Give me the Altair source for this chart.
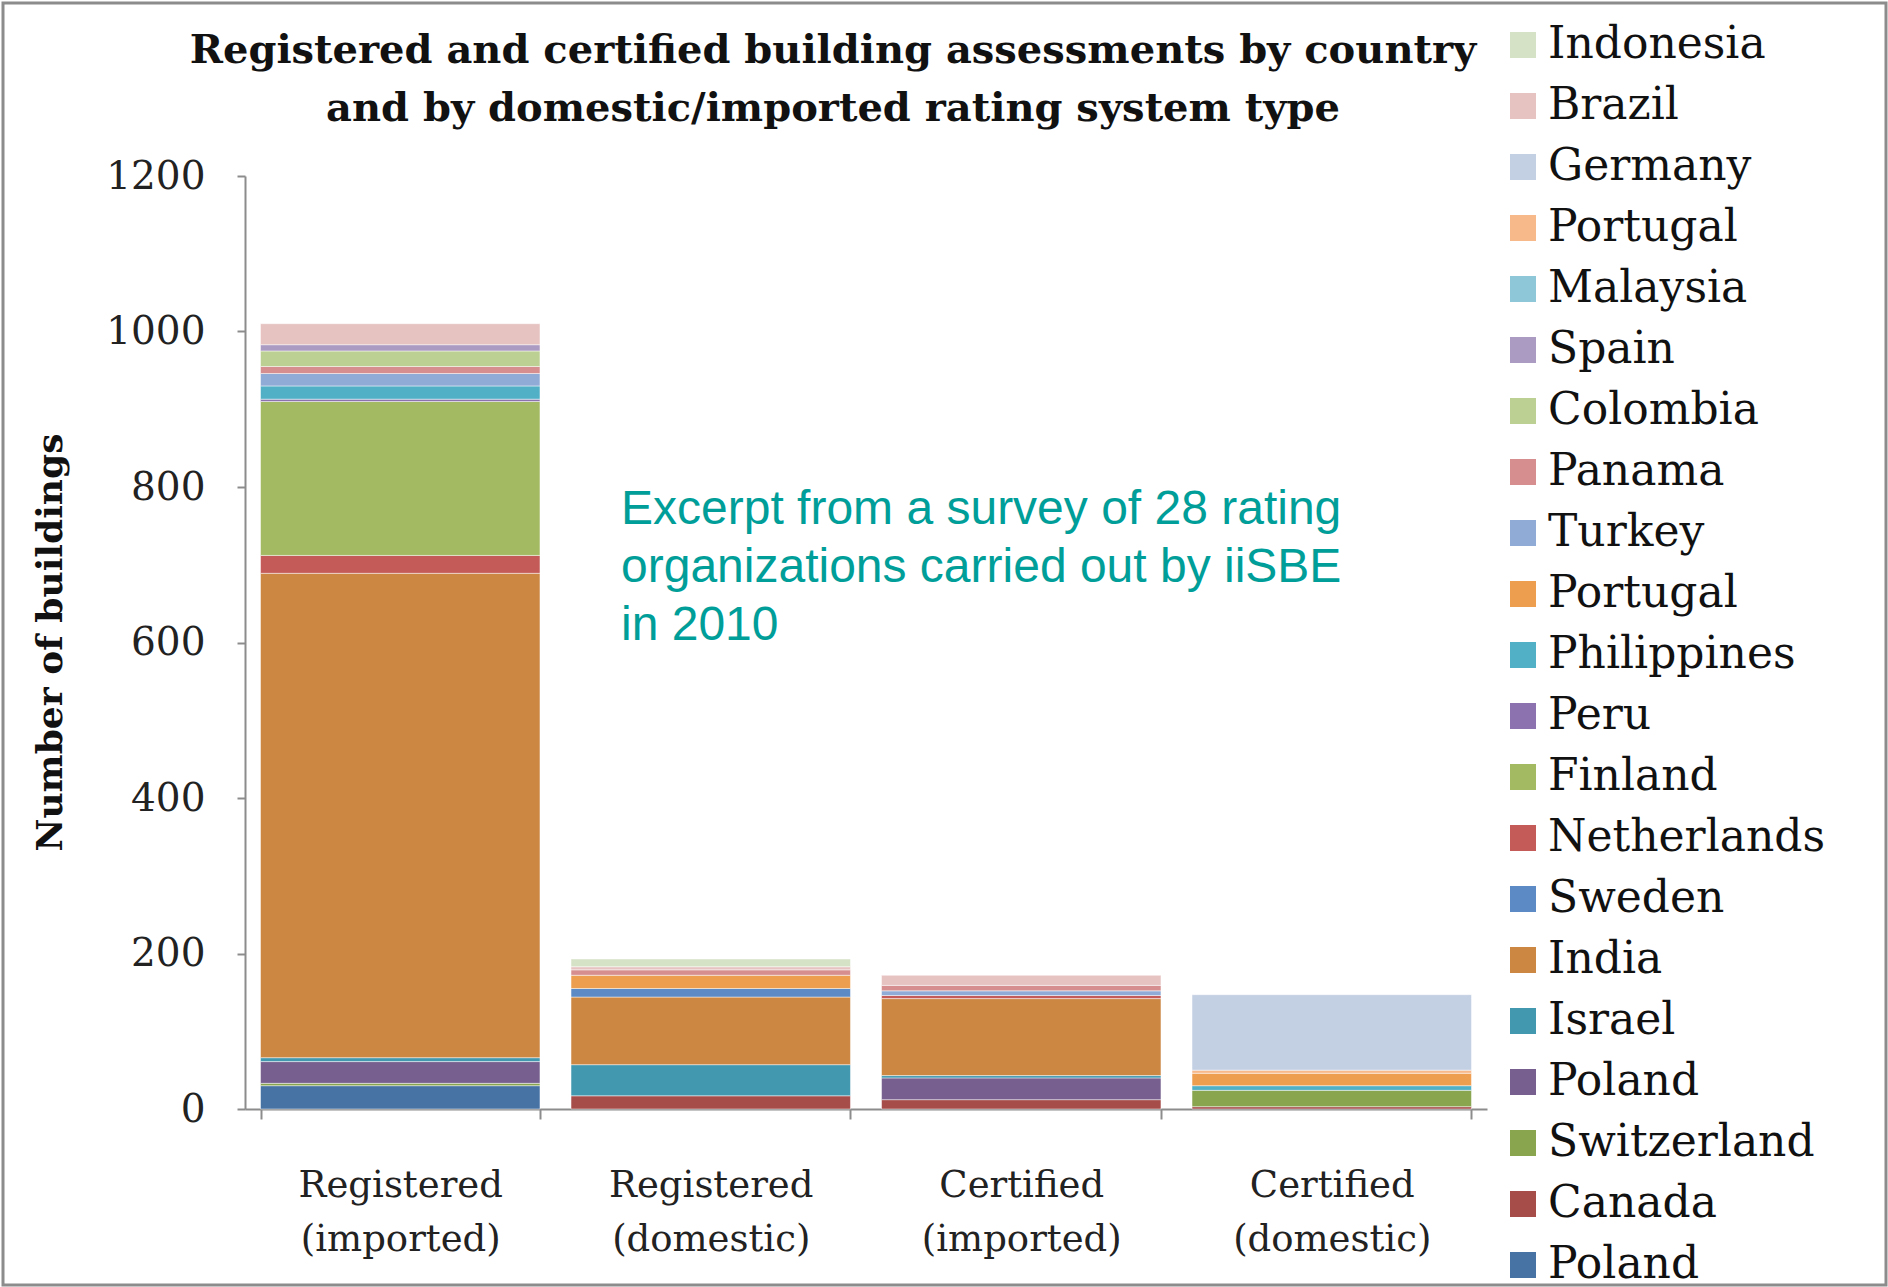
import altair as alt
import pandas as pd

categories = ["Registered (imported)", "Registered (domestic)",
              "Certified (imported)", "Certified (domestic)"]

# stacking order, bottom to top ("~2" marks a second entry with the same name)
series = ["Poland", "Canada", "Switzerland", "Poland~2", "Israel", "India",
          "Sweden", "Netherlands", "Finland", "Peru", "Philippines",
          "Portugal", "Turkey", "Panama", "Colombia", "Spain", "Malaysia",
          "Portugal~2", "Germany", "Brazil", "Indonesia"]

colors = ["#4672A4", "#A64D4A", "#89A54E", "#77608F", "#4198AF", "#CC8742",
          "#5B8AC5", "#C45B58", "#A3BA62", "#8C72AE", "#51AFC6",
          "#EE9E4F", "#90ABD6", "#D68F8E", "#BDD094", "#AB9BC2", "#8EC8D8",
          "#F7B88A", "#C3CFE3", "#E6C2C1", "#D6E2C6"]

reg_imported  = [30, 0, 3, 28, 5, 623, 0, 23, 198, 3, 17, 0, 16, 9, 20, 8, 0, 0, 0, 27, 0]
reg_domestic  = [0, 17, 0, 0, 40, 87, 11, 0, 0, 0, 0, 17, 0, 7, 0, 0, 0, 0, 0, 4, 10]
cert_imported = [0, 12, 0, 28, 3, 99, 0, 4, 0, 0, 0, 0, 6, 7, 0, 0, 0, 0, 0, 13, 0]
cert_domestic = [0, 3, 21, 0, 0, 0, 0, 0, 0, 0, 6, 16, 0, 0, 0, 0, 0, 4, 97, 0, 0]

title_lines = ["Registered and certified building assessments by country",
               "and by domestic/imported rating system type"]
note_lines = ["Excerpt from a survey of 28 rating",
              "organizations carried out by iiSBE",
              "in 2010"]

rows = []
for cat, arr in zip(categories, [reg_imported, reg_domestic, cert_imported, cert_domestic]):
    for i, s in enumerate(series):
        if arr[i] > 0:
            rows.append({"category": cat, "country": s, "value": arr[i], "order": i})
df = pd.DataFrame(rows)

serif = "DejaVu Serif"

bars = alt.Chart(df).mark_bar(stroke="white", strokeWidth=0.8, strokeOpacity=0.6).encode(
    x=alt.X("category:N", sort=categories,
            scale=alt.Scale(paddingInner=0.1, paddingOuter=0.05),
            axis=alt.Axis(title=None, labelAngle=0, tickBand="extent", tickSize=10,
                          tickColor="#8c8c8c", tickWidth=2, domainColor="#8c8c8c",
                          domainWidth=2, labelFont=serif, labelFontSize=37,
                          labelColor="#222", labelLineHeight=54, labelPadding=48,
                          labelLimit=400,
                          labelExpr="split(datum.label, ' ')", labelBaseline="top")),
    y=alt.Y("value:Q", stack="zero",
            scale=alt.Scale(domain=[0, 1200], nice=False),
            axis=alt.Axis(values=[0, 200, 400, 600, 800, 1000, 1200], grid=False,
                          format="d",
                          tickSize=8, tickColor="#8c8c8c", tickWidth=2,
                          domainColor="#8c8c8c", domainWidth=2,
                          labelFont=serif, labelFontSize=39, labelColor="#222",
                          labelPadding=32,
                          title="Number of buildings", titleFont=serif,
                          titleFontSize=36, titleFontWeight="bold", titleColor="#111",
                          titleX=-195, titleY=466, titleAngle=270,
                          titleBaseline="middle", titleAlign="center")),
    color=alt.Color("country:N",
                    scale=alt.Scale(domain=list(reversed(series)),
                                    range=list(reversed(colors))),
                    legend=alt.Legend(orient="none", legendX=1256, legendY=-153,
                                      title=None, labelFont=serif, labelFontSize=44,
                                      labelColor="#111", labelLimit=500,
                                      symbolType="square", symbolSize=676,
                                      symbolStrokeWidth=0, symbolOpacity=1,
                                      rowPadding=17, labelOffset=3,
                                      labelExpr="split(datum.label, '~')[0]")),
    order=alt.Order("order:Q", sort="ascending"),
)

one = pd.DataFrame({"k": [0]})

title = alt.Chart(one).mark_text(
    text=title_lines, align="center", baseline="middle", font=serif,
    fontSize=40, fontWeight="bold", lineHeight=58, color="#111"
).encode(x=alt.value(588), y=alt.value(-125))

note = alt.Chart(one).mark_text(
    text=note_lines, align="left", baseline="middle", font="Liberation Sans",
    fontSize=48, lineHeight=58, color="#009E99"
).encode(x=alt.value(376), y=alt.value(334))

frame = alt.Chart(one).mark_rect(fill="white", fillOpacity=0, stroke="#8c8c8c",
                                  strokeWidth=3).encode(
    x=alt.value(-242), x2=alt.value(1641), y=alt.value(-173), y2=alt.value(1109))

chart = alt.layer(bars, title, note, frame).properties(
    width=1242, height=933,
    background="white",
    padding={"left": 245, "top": 176, "right": 401, "bottom": 178},
    autosize=alt.AutoSizeParams(type="none"),
).configure_view(strokeWidth=0, stroke="transparent")

chart.save("out.html", embed_options={"renderer": "svg", "actions": False})
